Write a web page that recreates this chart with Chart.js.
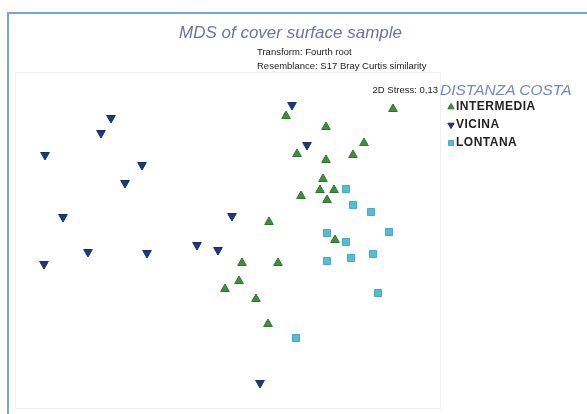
<!DOCTYPE html>
<html>
<head>
<meta charset="utf-8">
<script src="https://cdn.jsdelivr.net/npm/chart.js@4/dist/chart.umd.min.js"></script>
<style>
  html, body { margin: 0; padding: 0; background: #fff; }
  #wrap { position: relative; width: 587px; height: 414px; overflow: hidden; font-family: "Liberation Sans", Arial, sans-serif; }
  #frame { position: absolute; left: 7px; top: 12px; width: 620px; height: 440px; border-left: 2px solid #7aa2dc; border-top: 2px solid #7aa2dc; }
  #chartBox { position: absolute; left: 0; top: 0; width: 587px; height: 414px; }
  .txt { position: absolute; white-space: nowrap; }
  #title { left: 0; width: 581px; top: 23px; text-align: center; font-size: 17px; font-style: italic; color: #6d70b4; }
  #sub1 { left: 257px; top: 46px; font-size: 9.5px; color: #222; }
  #sub2 { left: 257px; top: 60px; font-size: 9.5px; color: #222; }
  #stress { right: 149px; top: 84px; font-size: 9.5px; color: #222; }
  #legTitle { left: 440px; top: 81px; font-size: 15.5px; font-style: italic; color: #7088cc; }
  .legItem { position: absolute; left: 446px; font-size: 12px; font-weight: bold; letter-spacing: 0.5px; color: #222; }
  .legItem canvas { position: absolute; left: 0; top: 3px; }
  .legItem span { position: absolute; left: 10px; top: 0; }
</style>
</head>
<body>
<div id="wrap">
  <div id="frame"></div>
  <div id="chartBox"><canvas id="c"></canvas></div>
  <div class="txt" id="title">MDS of cover surface sample</div>
  <div class="txt" id="sub1">Transform: Fourth root</div>
  <div class="txt" id="sub2">Resemblance: S17 Bray Curtis similarity</div>
  <div class="txt" id="stress">2D Stress: 0,13</div>
  <div class="txt" id="legTitle">DISTANZA COSTA</div>
  <div id="legend"></div>
</div>
<script>
// MDS ordination coordinates (dimension 1, dimension 2) per sample group
const intermediaX = [1.53, 0.46, 0.86, 1.24, 0.57, 1.13, 0.86, 0.83, 0.61, 0.80, 0.94, 0.87, 0.29, 0.95, 0.02, 0.38, -0.01, -0.15, 0.16, 0.28];
const intermediaY = [1.41, 1.34, 1.23, 1.07, 0.96, 0.95, 0.90, 0.71, 0.54, 0.60, 0.60, 0.50, 0.28, 0.10, -0.13, -0.13, -0.31, -0.39, -0.49, -0.74];

const vicinaX = [-1.29, -1.39, -1.95, -0.98, -1.15, -1.77, -1.52, -0.93, -0.43, -0.22, -1.96, 0.52, 0.67, -0.08, 0.20];
const vicinaY = [1.32, 1.17, 0.95, 0.85, 0.67, 0.33, -0.02, -0.03, 0.05, 0.00, -0.14, 1.45, 1.05, 0.34, -1.33];

const lontanaX = [1.06, 1.13, 1.31, 0.87, 1.49, 1.06, 0.87, 1.11, 1.33, 1.38, 0.56];
const lontanaY = [0.61, 0.45, 0.38, 0.17, 0.18, 0.08, -0.11, -0.08, -0.04, -0.43, -0.88];

const groupLabels = ['INTERMEDIA', 'VICINA', 'LONTANA'];

const toPoints = (xs, ys) => xs.map((x, i) => ({ x: x, y: ys[i] }));

const styles = [
  { fill: '#3f8f3c', edge: '#2f7430', shape: 'triangle', rot: 0, r: 5 },
  { fill: '#1d3b7c', edge: '#16306a', shape: 'triangle', rot: 180, r: 5 },
  { fill: '#56bcd6', edge: '#48aac6', shape: 'rect', rot: 0, r: 5 }
];

const series = [
  toPoints(intermediaX, intermediaY),
  toPoints(vicinaX, vicinaY),
  toPoints(lontanaX, lontanaY)
];

// faint plot frame behind the points
const framePlugin = {
  id: 'plotFrame',
  beforeDatasetsDraw(chart) {
    const ctx = chart.ctx;
    ctx.save();
    ctx.strokeStyle = '#f0f0f0';
    ctx.lineWidth = 1;
    ctx.strokeRect(15.5, 72.5, 425, 336);
    ctx.restore();
  }
};

new Chart(document.getElementById('c'), {
  type: 'scatter',
  data: {
    datasets: series.map((pts, i) => ({
      label: groupLabels[i],
      data: pts,
      pointStyle: styles[i].shape,
      rotation: styles[i].rot,
      pointRadius: styles[i].r,
      pointHoverRadius: styles[i].r,
      backgroundColor: styles[i].fill,
      borderColor: styles[i].edge,
      borderWidth: 1
    }))
  },
  options: {
    responsive: true,
    maintainAspectRatio: false,
    animation: false,
    layout: { padding: { left: 15, right: 147, top: 85, bottom: 9 } },
    scales: {
      x: { type: 'linear', display: false, min: -2.25, max: 2.0 },
      y: { type: 'linear', display: false, min: -1.55, max: 1.65 }
    },
    plugins: {
      legend: { display: false },
      title: { display: false },
      tooltip: { enabled: false }
    }
  },
  plugins: [framePlugin]
});

// legend entries built from the same group styles
const legend = document.getElementById('legend');
groupLabels.forEach((name, i) => {
  const item = document.createElement('div');
  item.className = 'legItem';
  item.style.top = (99 + i * 18) + 'px';
  const cv = document.createElement('canvas');
  cv.width = 10; cv.height = 10;
  const g = cv.getContext('2d');
  g.fillStyle = styles[i].fill;
  g.strokeStyle = styles[i].edge;
  g.lineWidth = 1;
  Chart.helpers.drawPoint(g, { pointStyle: styles[i].shape, rotation: styles[i].rot, radius: 3.6, borderWidth: 1 }, 5, 5);
  const label = document.createElement('span');
  label.textContent = name;
  item.appendChild(cv);
  item.appendChild(label);
  legend.appendChild(item);
});
</script>
</body>
</html>
